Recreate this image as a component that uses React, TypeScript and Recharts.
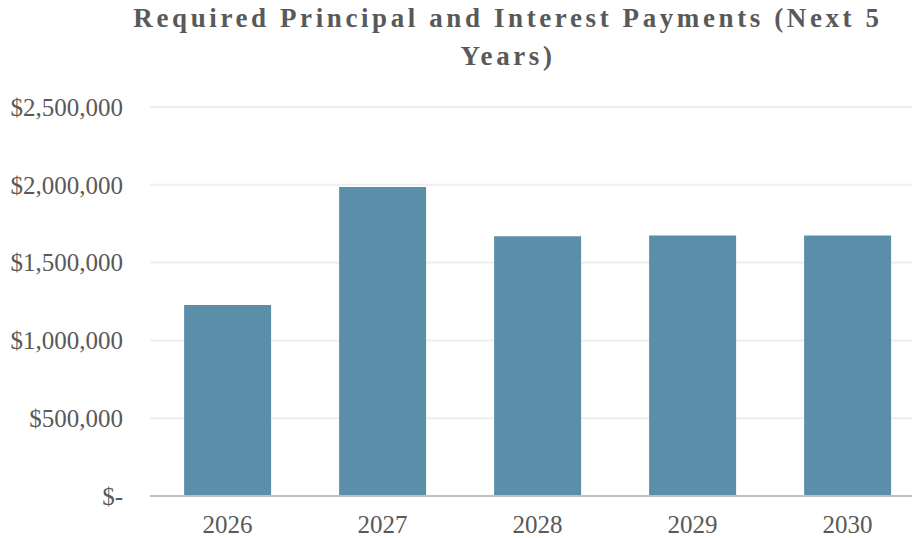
import { BarChart, Bar, XAxis, YAxis, CartesianGrid } from 'recharts'

const years = ['2026', '2027', '2028', '2029', '2030']
const payments = [1227000, 1986000, 1670000, 1674000, 1674000]
const yTicks = [0, 500000, 1000000, 1500000, 2000000, 2500000]

const data = years.map((year, i) => ({ year, payment: payments[i] }))

const serif = '"Liberation Serif", "Times New Roman", serif'

const fmtMoney = (v: number) => (v === 0 ? '$-' : '$' + v.toLocaleString('en-US'))

export default function App() {
  return (
    <div style={{ position: 'absolute', left: 0, top: 0, width: 912, height: 538, overflow: 'hidden', background: '#fff' }}>
      <div
        style={{
          position: 'absolute',
          left: 108,
          top: 0,
          width: 800,
          textAlign: 'center',
          fontFamily: serif,
          fontWeight: 700,
          fontSize: 27,
          lineHeight: '37.5px',
          letterSpacing: 3.6,
          color: '#595959',
        }}
      >
        Required Principal and Interest Payments (Next 5
        <br />
        Years)
      </div>
      <BarChart
        width={940}
        height={538}
        data={data}
        margin={{ top: 107, right: 15, left: 0, bottom: 0 }}
        barCategoryGap="22%"
      >
        <CartesianGrid vertical={false} stroke="#eeeeee" strokeWidth={2} />
        <XAxis
          dataKey="year"
          height={42}
          axisLine={{ stroke: '#bfbfbf', strokeWidth: 2 }}
          tickLine={false}
          tickMargin={13}
          tick={{ fill: '#595959', fontSize: 25, fontFamily: serif }}
        />
        <YAxis
          width={150}
          domain={[0, 2500000]}
          ticks={yTicks}
          axisLine={false}
          tickLine={false}
          tickMargin={21}
          tickFormatter={fmtMoney}
          tick={{ fill: '#595959', fontSize: 25, fontFamily: serif }}
        />
        <Bar dataKey="payment" fill="#5b8ea8" isAnimationActive={false} />
      </BarChart>
    </div>
  )
}
